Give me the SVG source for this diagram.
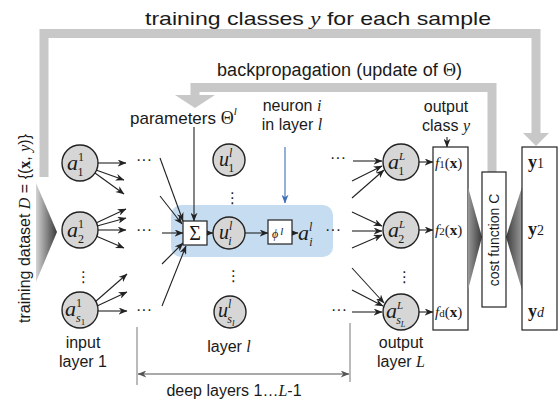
<svg xmlns="http://www.w3.org/2000/svg" width="560" height="406" viewBox="0 0 560 406">
<defs>
<style>
.s{font-family:"Liberation Sans",Arial,sans-serif;fill:#1a1a1a}
.r{font-family:"Liberation Serif","Times New Roman",serif;fill:#1a1a1a}
.i{font-style:italic}
.b{font-weight:bold}
.n{fill:#d6d6d6;stroke:#222;stroke-width:1.4}
.bx{fill:#fff;stroke:#222;stroke-width:1.2}
.ln{stroke:#222;stroke-width:1.1;fill:none;marker-end:url(#ah)}
.gb{stroke:#c8c8c8;stroke-width:9;fill:none;stroke-linejoin:miter}
.dots{font-family:"Liberation Sans",Arial,sans-serif;font-size:16px;fill:#222}
.vd{font-family:"DejaVu Sans",sans-serif;font-size:15px;fill:#222}
</style>
<marker id="ah" viewBox="0 0 10 8" refX="9.5" refY="4" markerWidth="9" markerHeight="7" markerUnits="userSpaceOnUse" orient="auto"><path d="M0,0 L10,4 L0,8 L3,4z" fill="#222"/></marker>
<marker id="ahb" viewBox="0 0 10 8" refX="9.5" refY="4" markerWidth="9" markerHeight="7" markerUnits="userSpaceOnUse" orient="auto"><path d="M0,0 L10,4 L0,8 L3,4z" fill="#3f6fb5"/></marker>
<marker id="ahg" viewBox="0 0 10 8" refX="9.5" refY="4" markerWidth="10" markerHeight="7" markerUnits="userSpaceOnUse" orient="auto-start-reverse"><path d="M0,0 L10,4 L0,8 L3,4z" fill="#555"/></marker>
<linearGradient id="gw" x1="0" y1="0" x2="1" y2="0"><stop offset="0" stop-color="#d4d4d4"/><stop offset="1" stop-color="#3a3a3a"/></linearGradient>
<linearGradient id="gl" x1="0" y1="0" x2="1" y2="0"><stop offset="0" stop-color="#9a9a9a"/><stop offset="1" stop-color="#3a3a3a"/></linearGradient>
<linearGradient id="gr" x1="1" y1="0" x2="0" y2="0"><stop offset="0" stop-color="#9a9a9a"/><stop offset="1" stop-color="#3a3a3a"/></linearGradient>
</defs>
<rect width="560" height="406" fill="#fff"/>

<!-- feedback frames -->
<g id="feedback">
<polyline class="gb" points="44,177 44,33.5 536,33.5 536,134"/>
<polygon points="523,133 549,133 536,146" fill="#c8c8c8"/>
<polyline class="gb" points="492,172 492,87.5 195,87.5 195,96"/>
<polygon points="175,95 215,95 195,108" fill="#c8c8c8"/>
<polygon points="36,183 57,232 36,282" fill="url(#gw)"/>
<text class="s" x="145" y="25" font-size="19" textLength="346" lengthAdjust="spacingAndGlyphs">training classes <tspan class="r i">y</tspan> for each sample</text>
<text class="s" x="217" y="76" font-size="18" textLength="245" lengthAdjust="spacing">backpropagation (update of  <tspan class="r">Θ</tspan>)</text>
<text class="s" transform="translate(30,323) rotate(-90)" font-size="16">training dataset <tspan class="r i">D</tspan> = {(<tspan class="r b">x</tspan>, <tspan class="r i">y</tspan>)}</text>
</g>

<!-- blue neuron highlight -->
<rect id="neuron-highlight" x="171" y="205" width="162" height="52" rx="10" fill="#c6ddf1"/>

<!-- connectors -->
<g id="connectors">
<path class="ln" d="M98,163 L126,163"/>
<path class="ln" d="M96,170 L124,180"/>
<path class="ln" d="M95,173 L124,194"/>
<path class="ln" d="M96,223 L126,209"/>
<path class="ln" d="M97,226 L126,218"/>
<path class="ln" d="M98,230 L126,230"/>
<path class="ln" d="M96,236 L124,248"/>
<path class="ln" d="M95,302 L127,274"/>
<path class="ln" d="M97,306 L127,292"/>
<path class="ln" d="M98,311 L127,311"/>
<path class="ln" d="M160,158 L183,221"/>
<path class="ln" d="M160,196 L182,224"/>
<path class="ln" d="M162,233 L183,233"/>
<path class="ln" d="M162,264 L183,243"/>
<path class="ln" d="M162,306 L186,246"/>
<path class="ln" d="M194,127 L194,221"/>
<path class="ln" d="M207,233 L213,233"/>
<path class="ln" d="M245,233 L268,233"/>
<path class="ln" d="M292,233 L298,233"/>
<path d="M285,147 L285,203" stroke="#3f6fb5" stroke-width="1.1" fill="none" marker-end="url(#ahb)"/>
<path class="ln" d="M353,161 L382,161"/>
<path class="ln" d="M352,181 L382,166"/>
<path class="ln" d="M352,198 L384,170"/>
<path class="ln" d="M352,212 L382,226"/>
<path class="ln" d="M352,231 L382,231"/>
<path class="ln" d="M352,248 L382,235"/>
<path class="ln" d="M352,268 L384,303"/>
<path class="ln" d="M352,290 L383,306"/>
<path class="ln" d="M352,312 L382,312"/>
<path class="ln" d="M419,162 L433,162"/>
<path class="ln" d="M419,230 L433,230"/>
<path class="ln" d="M419,312 L433,312"/>
<path class="ln" d="M447,137 L447,147"/>
<path d="M137,327 L137,385 M350,323 L350,382" stroke="#777" stroke-width="1" fill="none"/>
<path d="M138,374 L349,374" stroke="#555" stroke-width="1" fill="none" marker-start="url(#ahg)" marker-end="url(#ahg)"/>
</g>

<!-- dots -->
<g id="dots">
<text class="dots" x="136" y="165">···</text>
<text class="dots" x="136" y="235">···</text>
<text class="dots" x="136" y="315">···</text>
<text class="dots" x="330" y="163">···</text>
<text class="dots" x="325" y="235">···</text>
<text class="dots" x="331" y="315">···</text>
<text class="vd" x="76" y="282">⋮</text>
<text class="vd" x="225" y="203">⋮</text>
<text class="vd" x="226" y="281">⋮</text>
<text class="vd" x="397" y="282">⋮</text>
<text class="vd" x="446" y="272">⋮</text>
<text class="vd" x="535" y="272">⋮</text>
</g>

<!-- input layer -->
<g id="a1_1"><circle class="n" cx="80" cy="163" r="18"/><text class="r" x="67" y="170"><tspan class="i" font-size="22">a</tspan><tspan font-size="12" dy="-9">1</tspan><tspan font-size="12" dx="-6" dy="15">1</tspan></text></g>
<g id="a2_1"><circle class="n" cx="80" cy="230" r="18"/><text class="r" x="67" y="237"><tspan class="i" font-size="22">a</tspan><tspan font-size="12" dy="-9">1</tspan><tspan font-size="12" dx="-6" dy="15">2</tspan></text></g>
<g id="as1_1"><circle class="n" cx="80" cy="310" r="18"/><text class="r" x="65" y="316"><tspan class="i" font-size="22">a</tspan><tspan font-size="12" dy="-9">1</tspan><tspan class="i" font-size="12" dx="-6" dy="15">s</tspan><tspan font-size="9" dy="3">1</tspan></text></g>

<!-- hidden layer l -->
<g id="u1_l"><circle class="n" cx="229" cy="160" r="16"/><text class="r" x="219" y="166"><tspan class="i" font-size="20">u</tspan><tspan class="i" font-size="12" dy="-9">l</tspan><tspan font-size="12" dx="-4" dy="15">1</tspan></text></g>
<g id="ui_l"><circle class="n" cx="229" cy="233" r="16"/><text class="r" x="219" y="239"><tspan class="i" font-size="20">u</tspan><tspan class="i" font-size="12" dy="-9">l</tspan><tspan class="i" font-size="12" dx="-4" dy="15">i</tspan></text></g>
<g id="usl_l"><circle class="n" cx="230" cy="312" r="16"/><text class="r" x="218" y="317"><tspan class="i" font-size="20">u</tspan><tspan class="i" font-size="12" dy="-9">l</tspan><tspan class="i" font-size="12" dx="-4" dy="15">s</tspan><tspan class="i" font-size="9" dy="3">l</tspan></text></g>

<!-- neuron i -->
<g id="sum"><rect class="bx" x="183" y="221" width="24" height="24"/><text class="r" x="195" y="240" font-size="20" text-anchor="middle">Σ</text></g>
<g id="phi"><rect class="bx" x="268" y="220" width="24" height="24"/><text class="r" x="272" y="238"><tspan class="i" font-size="12">ϕ</tspan><tspan class="i" font-size="11" dx="2" dy="-3">l</tspan></text></g>
<g id="ai_l"><text class="r" x="298" y="240"><tspan class="i" font-size="22">a</tspan><tspan class="i" font-size="12" dy="-9">l</tspan><tspan class="i" font-size="12" dx="-3" dy="15">i</tspan></text></g>

<!-- output layer -->
<g id="a1_L"><circle class="n" cx="401" cy="162" r="18"/><text class="r" x="388" y="169"><tspan class="i" font-size="22">a</tspan><tspan class="i" font-size="11" dy="-9">L</tspan><tspan font-size="12" dx="-7" dy="15">1</tspan></text></g>
<g id="a2_L"><circle class="n" cx="401" cy="230" r="18"/><text class="r" x="388" y="237"><tspan class="i" font-size="22">a</tspan><tspan class="i" font-size="11" dy="-9">L</tspan><tspan font-size="12" dx="-7" dy="15">2</tspan></text></g>
<g id="asL_L"><circle class="n" cx="401" cy="312" r="18"/><text class="r" x="386" y="318"><tspan class="i" font-size="22">a</tspan><tspan class="i" font-size="11" dy="-9">L</tspan><tspan class="i" font-size="12" dx="-7" dy="15">s</tspan><tspan class="i" font-size="8" dy="3">L</tspan></text></g>

<!-- output class box -->
<g id="f-box"><rect class="bx" x="433" y="147" width="35" height="183"/>
<text class="r" x="435" y="168" font-size="15"><tspan class="i">f</tspan><tspan font-size="11">1</tspan>(<tspan class="b">x</tspan>)</text>
<text class="r" x="435" y="235" font-size="15"><tspan class="i">f</tspan><tspan font-size="11">2</tspan>(<tspan class="b">x</tspan>)</text>
<text class="r" x="435" y="317" font-size="15"><tspan class="i">f</tspan><tspan font-size="11">d</tspan>(<tspan class="b">x</tspan>)</text></g>

<g id="cost"><polygon points="468,187 482,237 468,290" fill="url(#gl)"/><polygon points="522,187 506,237 522,290" fill="url(#gr)"/>
<rect class="bx" x="482" y="172" width="24" height="135"/>
<text class="s" transform="translate(499,240) rotate(-90)" font-size="14" text-anchor="middle">cost function C</text></g>

<g id="y-box"><rect class="bx" x="522" y="147" width="35" height="183"/>
<text class="r" x="528" y="168" font-size="18"><tspan class="b">y</tspan><tspan font-size="14">1</tspan></text>
<text class="r" x="528" y="235" font-size="18"><tspan class="b">y</tspan><tspan font-size="14">2</tspan></text>
<text class="r" x="528" y="317" font-size="18"><tspan class="b">y</tspan><tspan class="i" font-size="14">d</tspan></text></g>

<!-- labels -->
<g id="labels">
<text class="s" x="130" y="124" font-size="17">parameters <tspan class="r" font-size="18">Θ</tspan><tspan class="r i" font-size="11" dy="-9">l</tspan></text>
<text class="s" x="292" y="111" font-size="16" text-anchor="middle">neuron <tspan class="r i">i</tspan></text>
<text class="s" x="292" y="130" font-size="16" text-anchor="middle">in layer <tspan class="r i">l</tspan></text>
<text class="s" x="446" y="112" font-size="16" text-anchor="middle">output</text>
<text class="s" x="446" y="131" font-size="16" text-anchor="middle">class <tspan class="r i">y</tspan></text>
<text class="s" x="83" y="348" font-size="16" text-anchor="middle">input</text>
<text class="s" x="83" y="367" font-size="16" text-anchor="middle">layer 1</text>
<text class="s" x="229" y="352" font-size="16" text-anchor="middle">layer <tspan class="r i">l</tspan></text>
<text class="s" x="401" y="348" font-size="16" text-anchor="middle">output</text>
<text class="s" x="401" y="367" font-size="16" text-anchor="middle">layer <tspan class="r i">L</tspan></text>
<text class="s" x="234" y="396" font-size="16" text-anchor="middle">deep layers 1…<tspan class="r i">L</tspan>-1</text>
</g>
</svg>
